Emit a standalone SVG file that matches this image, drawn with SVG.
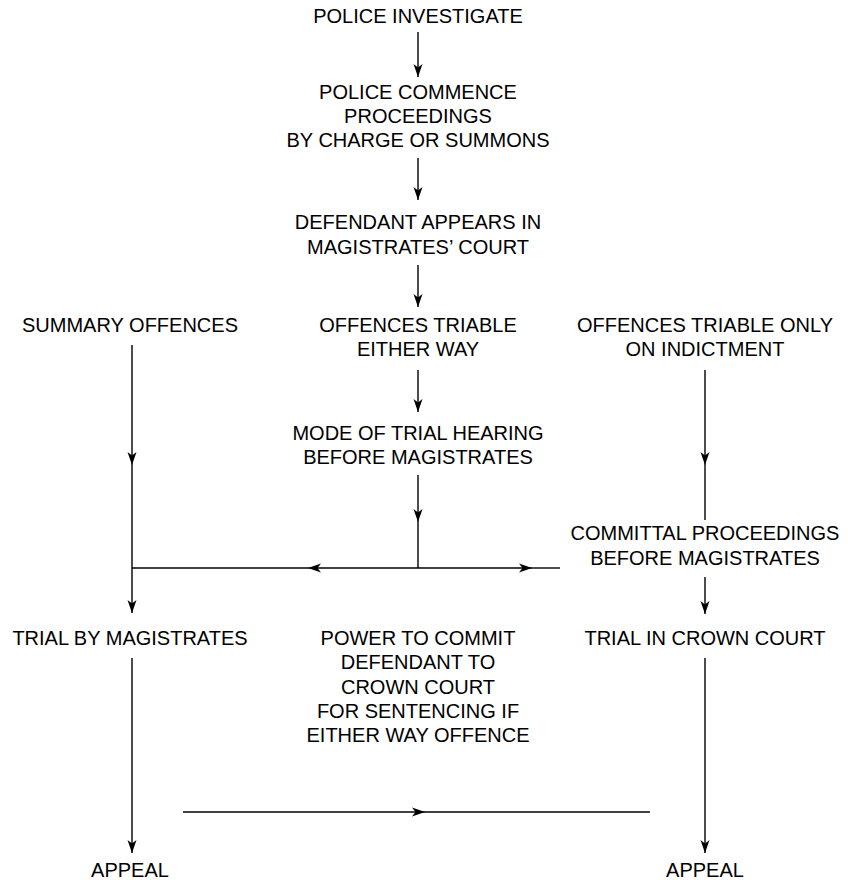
<svg xmlns="http://www.w3.org/2000/svg" width="848" height="880" viewBox="0 0 848 880">
  <style>
    text { font-family: "Liberation Sans", Arial, Helvetica, sans-serif; font-size: 20px; fill: #000; text-anchor: middle; }
    .c { stroke: #000; stroke-width: 1.4; fill: none; }
    .a { marker-end: url(#ah); }
  </style>
  <defs>
    <marker id="ah" markerUnits="userSpaceOnUse" viewBox="-13 -5 14 10" refX="0" refY="0" markerWidth="14" markerHeight="10" orient="auto">
      <path d="M -13 -4.5 L 0 0 L -13 4.5 L -9.5 0 Z" fill="#000"/>
    </marker>
  </defs>
  <rect width="848" height="880" fill="#fff"/>

  <g id="n-police-investigate"><text x="418" y="23">POLICE INVESTIGATE</text></g>
  <g id="n-police-commence">
    <text x="418" y="99">POLICE COMMENCE</text>
    <text x="418" y="123">PROCEEDINGS</text>
    <text x="418" y="147">BY CHARGE OR SUMMONS</text>
  </g>
  <g id="n-defendant-appears">
    <text x="418" y="229">DEFENDANT APPEARS IN</text>
    <text x="418" y="254">MAGISTRATES’ COURT</text>
  </g>
  <g id="n-summary"><text x="130" y="332">SUMMARY OFFENCES</text></g>
  <g id="n-either-way">
    <text x="418" y="332">OFFENCES TRIABLE</text>
    <text x="418" y="356">EITHER WAY</text>
  </g>
  <g id="n-indictment">
    <text x="705" y="332">OFFENCES TRIABLE ONLY</text>
    <text x="705" y="356">ON INDICTMENT</text>
  </g>
  <g id="n-mode-of-trial">
    <text x="418" y="440">MODE OF TRIAL HEARING</text>
    <text x="418" y="464">BEFORE MAGISTRATES</text>
  </g>
  <g id="n-committal">
    <text x="705" y="540">COMMITTAL PROCEEDINGS</text>
    <text x="705" y="565">BEFORE MAGISTRATES</text>
  </g>
  <g id="n-trial-magistrates"><text x="130" y="645">TRIAL BY MAGISTRATES</text></g>
  <g id="n-power-to-commit">
    <text x="418" y="645">POWER TO COMMIT</text>
    <text x="418" y="669">DEFENDANT TO</text>
    <text x="418" y="694">CROWN COURT</text>
    <text x="418" y="718">FOR SENTENCING IF</text>
    <text x="418" y="742">EITHER WAY OFFENCE</text>
  </g>
  <g id="n-trial-crown"><text x="705" y="645">TRIAL IN CROWN COURT</text></g>
  <g id="n-appeal-left"><text x="130" y="877">APPEAL</text></g>
  <g id="n-appeal-right"><text x="705" y="877">APPEAL</text></g>

  <g id="connectors">
    <line class="c a" x1="418" y1="32" x2="418" y2="77"/>
    <line class="c a" x1="418" y1="158" x2="418" y2="200"/>
    <line class="c a" x1="418" y1="265" x2="418" y2="307"/>
    <line class="c a" x1="418" y1="370" x2="418" y2="412"/>

    <!-- left column -->
    <line class="c a" x1="132" y1="345" x2="132" y2="465"/>
    <line class="c a" x1="132" y1="465" x2="132" y2="613"/>

    <!-- right column -->
    <line class="c a" x1="705" y1="370" x2="705" y2="465"/>
    <line class="c" x1="705" y1="465" x2="705" y2="520"/>
    <line class="c a" x1="705" y1="577" x2="705" y2="614"/>

    <!-- mode of trial split -->
    <line class="c a" x1="418" y1="475" x2="418" y2="522"/>
    <line class="c" x1="418" y1="522" x2="418" y2="568"/>
    <line class="c a" x1="418" y1="568" x2="308" y2="568"/>
    <line class="c" x1="308" y1="568" x2="132" y2="568"/>
    <line class="c a" x1="418" y1="568" x2="532" y2="568"/>
    <line class="c" x1="532" y1="568" x2="560" y2="568"/>

    <!-- bottom -->
    <line class="c a" x1="132" y1="658" x2="132" y2="853"/>
    <line class="c a" x1="705" y1="658" x2="705" y2="853"/>
    <line class="c a" x1="183" y1="812" x2="425" y2="812"/>
    <line class="c" x1="425" y1="812" x2="650" y2="812"/>
  </g>
</svg>
